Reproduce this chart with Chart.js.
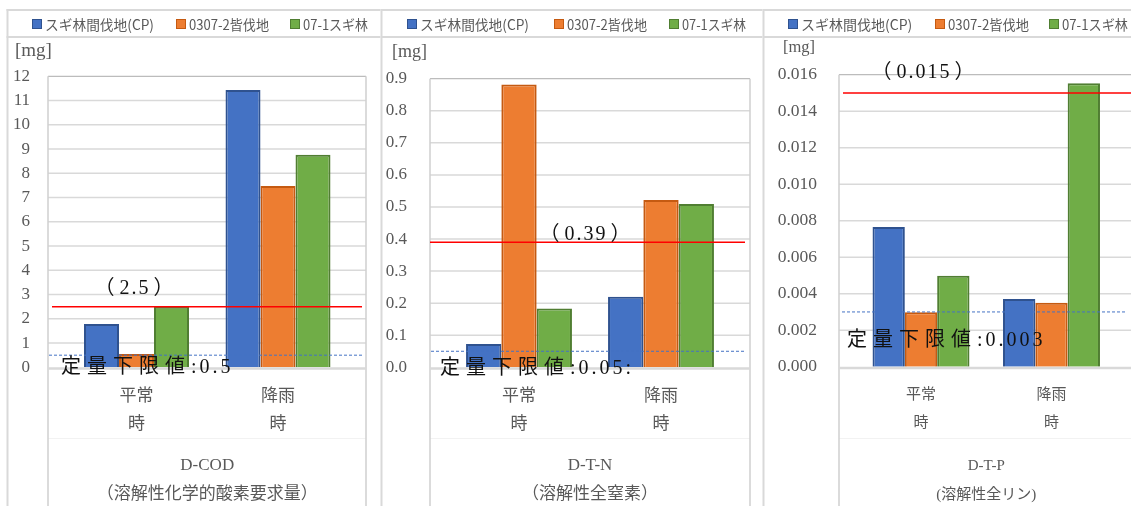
<!DOCTYPE html>
<html lang="ja">
<head>
<meta charset="utf-8">
<title>溶存成分比較</title>
<script src="https://cdn.jsdelivr.net/npm/chart.js"></script>
<style>
  html, body { margin: 0; padding: 0; background: #ffffff; width: 1131px; height: 506px; overflow: hidden; }
  .panel { position: absolute; top: 0; height: 510px; }
  canvas { display: block; }
</style>
</head>
<body>
<div class="panel" style="left:0px;width:380px"><canvas id="cod" width="380" height="510"></canvas></div>
<div class="panel" style="left:380px;width:382px"><canvas id="tn" width="382" height="510"></canvas></div>
<div class="panel" style="left:762px;width:369px"><canvas id="tp" width="369" height="510"></canvas></div>
<script>
// ---- data ----------------------------------------------------------------
const categories = [['平常', '時'], ['降雨', '時']];
const seriesNames = ['スギ林間伐地(CP)', '0307-2皆伐地', '07-1スギ林'];
const unitLabel = '[mg]';

// D-COD (溶解性化学的酸素要求量)
const codTitle = ['D-COD', '（溶解性化学的酸素要求量）'];
const codCP = [1.79, 11.43];
const codClearcut = [0.55, 7.48];
const codSugi = [2.5, 8.76];
const codTickLabels = ['0', '1', '2', '3', '4', '5', '6', '7', '8', '9', '10', '11', '12'];
const codGuide = 2.5;
const codLimit = 0.5;

// D-T-N (溶解性全窒素)
const tnTitle = ['D-T-N', '（溶解性全窒素）'];
const tnCP = [0.073, 0.22];
const tnClearcut = [0.882, 0.522];
const tnSugi = [0.183, 0.509];
const tnTickLabels = ['0.0', '0.1', '0.2', '0.3', '0.4', '0.5', '0.6', '0.7', '0.8', '0.9'];
const tnGuide = 0.39;
const tnLimit = 0.05;

// D-T-P (溶解性全リン)
const tpTitle = ['D-T-P', '(溶解性全リン)'];
const tpCP = [0.00766, 0.00371];
const tpClearcut = [0.00298, 0.00351];
const tpSugi = [0.00499, 0.01553];
const tpTickLabels = ['0.000', '0.002', '0.004', '0.006', '0.008', '0.010', '0.012', '0.014', '0.016'];
const tpGuide = 0.015;
const tpLimit = 0.003;

// ---- styling -------------------------------------------------------------
const fillColors = ['#4472c4', '#ed7d31', '#70ad47'];
const edgeColors = ['#2f528f', '#c55a11', '#507e32'];
const GRAY_TEXT = '#595959';
const SERIF = '"Liberation Serif", "Noto Sans CJK JP"';
const CJK = '"Noto Sans CJK JP"';
const CANVAS_H = 510;

function hline(ctx, x1, x2, y) { ctx.beginPath(); ctx.moveTo(x1, y); ctx.lineTo(x2, y); ctx.stroke(); }
function vline(ctx, x, y1, y2) { ctx.beginPath(); ctx.moveTo(x, y1); ctx.lineTo(x, y2); ctx.stroke(); }

// width of a string drawn one character at a time with extra spacing
function spacedWidth(ctx, text, gap) {
  let w = 0;
  for (const ch of text) w += ctx.measureText(ch).width + gap;
  return w - gap;
}
function drawSpaced(ctx, text, x, y, gapFor) {
  for (const ch of text) {
    ctx.fillText(ch, x, y);
    x += ctx.measureText(ch).width + gapFor(ch);
  }
  return x;
}

// Table rules, plot frame, gridlines, reference lines, legend and notes
const panelDeco = {
  id: 'panelDeco',
  beforeDraw(chart, _args, o) {
    const { ctx, width, height } = chart;
    const dx = -o.x0;
    ctx.save();
    ctx.fillStyle = '#ffffff';
    ctx.fillRect(0, 0, width, height);
    ctx.strokeStyle = '#d9d9d9';
    ctx.lineWidth = 2;
    hline(ctx, o.rule + dx - 1, width, 10);
    hline(ctx, o.rule + dx - 1, width, 37);
    vline(ctx, o.rule + dx, 9, height);
    ctx.restore();
  },
  beforeDatasetsDraw(chart, _args, o) {
    const { ctx, height } = chart;
    const y = chart.scales.y;
    const dx = -o.x0;
    const L = o.frameL + dx, R = o.frameR + dx;
    const top = y.getPixelForValue(y.max);
    const base = y.getPixelForValue(0);
    ctx.save();
    ctx.strokeStyle = '#d9d9d9';
    ctx.lineWidth = 1.5;
    y.ticks.forEach(t => {
      if (t.value > 0 && t.value < y.max) hline(ctx, L, R, y.getPixelForValue(t.value));
    });
    ctx.strokeStyle = '#f2f2f2';
    ctx.lineWidth = 1;
    hline(ctx, L, R, 438.5);
    ctx.strokeStyle = '#bcbcbc';
    ctx.lineWidth = 1.2;
    hline(ctx, L, R, top);
    ctx.strokeStyle = '#cfcfcf';
    ctx.lineWidth = 1.5;
    vline(ctx, L, top, height);
    vline(ctx, R, top, height);
    ctx.strokeStyle = '#d9d9d9';
    ctx.lineWidth = 2.5;
    hline(ctx, L, R, base + 1.2);
    ctx.restore();
  },
  afterDatasetsDraw(chart, _args, o) {
    const { ctx } = chart;
    const y = chart.scales.y;
    const dx = -o.x0;
    ctx.save();

    // reference value (red) and lower quantification limit (blue dashed)
    const gy = y.getPixelForValue(o.guide);
    ctx.strokeStyle = '#ff0000';
    ctx.lineWidth = 1.5;
    hline(ctx, o.guideL + dx, o.guideR + dx, gy);
    const ly = y.getPixelForValue(o.limit);
    ctx.strokeStyle = '#4472c4';
    ctx.lineWidth = 1;
    ctx.setLineDash([3, 2]);
    hline(ctx, o.limitL + dx, o.limitR + dx, ly);
    ctx.setLineDash([]);

    // "(value)" label above the red line
    ctx.fillStyle = '#111111';
    ctx.textBaseline = 'middle';
    ctx.font = '20px ' + SERIF;
    const num = String(o.guide);
    const numW = spacedWidth(ctx, num, 2);
    const nx = o.guideX + dx - numW / 2;
    const ty = gy + o.guideDy;
    ctx.textAlign = 'left';
    drawSpaced(ctx, num, nx, ty, () => 2);
    ctx.textAlign = 'right';
    ctx.fillText('（', nx - 5, ty);
    ctx.textAlign = 'left';
    ctx.fillText('）', nx + numW + 5, ty);

    // quantification limit note
    const note = '定量下限値:' + o.limit + o.limitSuffix;
    drawSpaced(ctx, note, o.limitX + dx, ly + o.limitDy, ch => (/[\u3000-\u9fff]/.test(ch) ? 6 : 3));

    // legend row
    ctx.font = o.legendSize + 'px ' + CJK;
    chart.data.datasets.forEach((ds, i) => {
      const sx = o.legendX[i] + dx;
      ctx.fillStyle = ds.backgroundColor;
      ctx.fillRect(sx, 19, 10, 10);
      ctx.strokeStyle = ds.borderColor;
      ctx.lineWidth = 1;
      ctx.strokeRect(sx + 0.5, 19.5, 9, 9);
      ctx.fillStyle = GRAY_TEXT;
      ctx.fillText(ds.label, sx + 13, 24.5, o.legendW[i]);
    });

    // unit
    ctx.font = o.unitSize + 'px ' + SERIF;
    ctx.fillStyle = GRAY_TEXT;
    ctx.fillText(unitLabel, o.unitX + dx, o.unitY);
    ctx.restore();
  }
};

function buildPanel(id, p) {
  const canvas = document.getElementById(id);
  const W = canvas.width;
  return new Chart(canvas, {
    type: 'bar',
    data: {
      labels: categories,
      datasets: p.series.map((vals, i) => ({
        label: seriesNames[i],
        data: vals,
        backgroundColor: fillColors[i],
        borderColor: edgeColors[i],
        borderWidth: 2,
        borderSkipped: 'start',
        categoryPercentage: p.catPct,
        barPercentage: 1
      }))
    },
    options: {
      responsive: false,
      animation: false,
      layout: { padding: { left: 0, right: W - (p.areaR - p.deco.x0), top: p.top, bottom: 0 } },
      plugins: {
        legend: { display: false },
        tooltip: { enabled: false },
        panelDeco: p.deco
      },
      scales: {
        x: {
          grid: { display: false, drawTicks: false },
          border: { display: false },
          ticks: {
            autoSkip: false, maxRotation: 0, padding: 13, color: GRAY_TEXT,
            font: { family: CJK, size: p.catSize, lineHeight: '28px' }
          },
          title: {
            display: true, text: p.title, color: GRAY_TEXT,
            font: { family: SERIF, size: p.titleSize, lineHeight: '28.8px' },
            padding: { top: 0, bottom: 1 }
          },
          afterFit: s => { s.height = CANVAS_H - p.bottom; }
        },
        y: {
          min: 0,
          max: parseFloat(p.tickLabels[p.tickLabels.length - 1]),
          grid: { display: false, drawTicks: false },
          border: { display: false },
          afterBuildTicks: s => { s.ticks = p.tickLabels.map(l => ({ value: parseFloat(l) })); },
          ticks: {
            autoSkip: false,
            callback: (v, i) => p.tickLabels[i],
            padding: p.areaL - p.tickRight,
            color: GRAY_TEXT,
            font: { family: '"Liberation Serif"', size: p.tickSize }
          },
          afterFit: s => { s.width = p.areaL - p.deco.x0; }
        }
      }
    },
    plugins: [panelDeco]
  });
}

buildPanel('cod', {
  series: [codCP, codClearcut, codSugi],
  tickLabels: codTickLabels,
  title: codTitle,
  areaL: 65.75, areaR: 348.75, top: 76.3, bottom: 367.3, tickRight: 30,
  catPct: 0.742, tickSize: 17, catSize: 17, titleSize: 17,
  deco: {
    x0: 0, rule: 7.5, frameL: 48, frameR: 366,
    guide: codGuide, guideL: 52, guideR: 362, guideX: 134, guideDy: -18,
    limit: codLimit, limitL: 49, limitR: 362, limitX: 61, limitDy: 13, limitSuffix: '',
    legendX: [32, 176, 290], legendW: [109, 80, 65], legendSize: 14,
    unitX: 15, unitY: 51, unitSize: 19
  }
});

buildPanel('tn', {
  series: [tnCP, tnClearcut, tnSugi],
  tickLabels: tnTickLabels,
  title: tnTitle,
  areaL: 448, areaR: 732, top: 78.7, bottom: 367.3, tickRight: 407,
  catPct: 0.746, tickSize: 17, catSize: 17, titleSize: 17,
  deco: {
    x0: 380, rule: 381.5, frameL: 430, frameR: 750,
    guide: tnGuide, guideL: 430, guideR: 745, guideX: 585, guideDy: -7,
    limit: tnLimit, limitL: 431, limitR: 745, limitX: 440, limitDy: 17, limitSuffix: ':',
    legendX: [407, 554, 669], legendW: [109, 80, 64], legendSize: 14,
    unitX: 392, unitY: 52, unitSize: 18
  }
});

buildPanel('tp', {
  series: [tpCP, tpClearcut, tpSugi],
  tickLabels: tpTickLabels,
  title: tpTitle,
  areaL: 855.75, areaR: 1116.75, top: 74.7, bottom: 366.7, tickRight: 817,
  catPct: 0.743, tickSize: 17.5, catSize: 15, titleSize: 15,
  deco: {
    x0: 762, rule: 763.5, frameL: 839, frameR: 1133,
    guide: tpGuide, guideL: 843, guideR: 1131, guideX: 923, guideDy: -20,
    limit: tpLimit, limitL: 842, limitR: 1127, limitX: 847, limitDy: 29, limitSuffix: '',
    legendX: [788, 935, 1049], legendW: [113, 81, 66], legendSize: 14,
    unitX: 783, unitY: 48, unitSize: 16.5
  }
});
</script>
</body>
</html>
